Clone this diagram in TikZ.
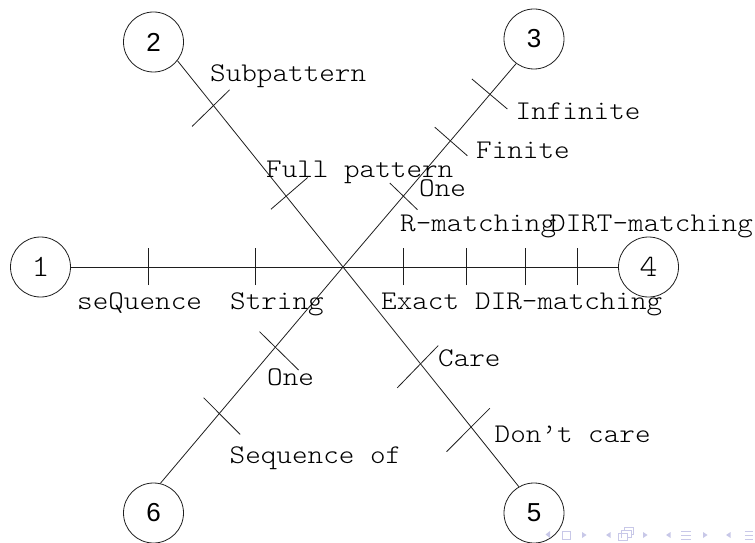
\documentclass[tikz,border=0pt]{standalone}
\usepackage{fontspec}
\setmainfont{Liberation Sans}
\newfontfamily\labelfont{Latin Modern Mono Light}[FakeStretch=1.1]
\definecolor{ink}{RGB}{30,30,30}
\definecolor{navc}{RGB}{200,200,232}
\begin{document}
\begin{tikzpicture}[x=1pt,y=1pt,
  axis/.style={draw=ink, line width=0.8pt},
  hub/.style={circle, draw=ink, line width=0.8pt, minimum size=60pt, inner sep=0pt,
    font=\fontsize{26}{26}\selectfont},
  hubtt/.style={hub, font=\labelfont\fontsize{31}{31}\selectfont},
  lbl/.style={anchor=base west, inner sep=0pt, font=\labelfont\fontsize{27}{27}\selectfont},
  navtri/.style={fill=navc, draw=none},
  navbox/.style={draw=navc, line width=0.9pt}]
\useasboundingbox (0,0) rectangle (755,542);

% hub and the six end circles
\coordinate (C) at (343,275);
\node[hubtt] (n1) at (40.5,275) {1};
\node[hub]   (n2) at (153.5,500) {2};
\node[hub]   (n3) at (534,503) {3};
\node[hubtt] (n4) at (648.5,275) {4};
\node[hub]   (n5) at (534,29) {5};
\node[hub]   (n6) at (153.5,29) {6};

% horizontal axis with its vertical ticks
\draw[axis] (n1) -- (n4);
\foreach \x in {148,255,403,466,525,577}
  \draw[axis] (\x,257) -- (\x,294);

% diagonal axes, with tick positions along them
\draw[axis] (C) -- (n2.-38.5) coordinate[pos=0.3445] (t2b) coordinate[pos=0.7815] (t2a);
\draw[axis] (C) -- (n5.120)   coordinate[pos=0.441] (t5a) coordinate[pos=0.727] (t5b);
\draw[axis] (C) -- (n3.-126)  coordinate[pos=0.347] (t3c) coordinate[pos=0.622] (t3b) coordinate[pos=0.847] (t3a);
\draw[axis] (C) -- (n6.77.7)  coordinate[pos=0.371] (t6a) coordinate[pos=0.678] (t6b);

% cross ticks on the diagonals
\draw[axis] ([shift={(-21.6,-20.7)}]t2a) -- ([shift={(16,16)}]t2a);
\draw[axis] ([shift={(-15,-13.3)}]t2b) -- ([shift={(21.7,18.4)}]t2b);
\draw[axis] ([shift={(-23.3,-24)}]t5a) -- ([shift={(17.7,18.3)}]t5a);
\draw[axis] ([shift={(-24.3,-25)}]t5b) -- ([shift={(19,18.4)}]t5b);
\draw[axis] ([shift={(-17.7,15.7)}]t3a) -- ([shift={(17.7,-14.3)}]t3a);
\draw[axis] ([shift={(-16,13.4)}]t3b) -- ([shift={(16.7,-15.3)}]t3b);
\draw[axis] ([shift={(-13.3,13.4)}]t3c) -- ([shift={(14.4,-13.3)}]t3c);
\draw[axis] ([shift={(-15.7,15.6)}]t6a) -- ([shift={(23.3,-22.7)}]t6a);
\draw[axis] ([shift={(-15.6,16)}]t6b) -- ([shift={(21,-20.7)}]t6b);

% labels
\node[lbl] (lSub)  at (210,460)   {Subpattern};
\node[lbl] (lFull) at (266,365)   {Full pattern};
\node[lbl] (lInf)  at (515.5,422) {Infinite};
\node[lbl] (lFin)  at (476,383.7) {Finite};
\node[lbl] (lOneU) at (419,346)   {One};
\node[lbl] (lR)    at (400,310.3) {R-matching};
\node[lbl] (lDIRT) at (550,310.3) {DIRT-matching};
\node[lbl] (lSeqQ) at (77,232.7)  {seQuence};
\node[lbl] (lStr)  at (230,232.7) {String};
\node[lbl] (lEx)   at (381,232.7) {Exact};
\node[lbl] (lDIR)  at (475,232.7) {DIR-matching};
\node[lbl] (lCare) at (438,175.3) {Care};
\node[lbl] (lDont) at (494.5,99.3) {Don’t care};
\node[lbl] (lOneD) at (267,156.3) {One};
\node[lbl] (lSeqO) at (229.5,78.7) {Sequence of};

% navigation symbols
\fill[navtri] (550,4) -- (550,11) -- (545.5,7.5) -- cycle;
\draw[navbox] (562,2.5) rectangle (570,10.5);
\fill[navtri] (582,4) -- (582,10) -- (586.5,7) -- cycle;
\fill[navtri] (610.5,4) -- (610.5,10) -- (606,7) -- cycle;
\draw[navbox] (618.5,1.5) rectangle (627,8.5);
\draw[navbox] (621.5,4.5) -- (621.5,11.5) -- (631,11.5) -- (631,4.5) -- (627,4.5);
\draw[navbox] (624.5,11.5) -- (624.5,14.5) -- (633,14.5) -- (633,7.5) -- (631,7.5);
\fill[navtri] (643,4) -- (643,10) -- (647.5,7) -- cycle;
\fill[navtri] (670.5,4) -- (670.5,10) -- (666,7) -- cycle;
\foreach \yy in {3,7,11} \draw[navbox] (681,\yy) -- (691,\yy);
\fill[navtri] (703,4) -- (703,10) -- (707.5,7) -- cycle;
\fill[navtri] (730.5,4) -- (730.5,10) -- (726,7) -- cycle;
\foreach \yy in {3,7,11} \draw[navbox] (744.5,\yy) -- (753,\yy);
\end{tikzpicture}
\end{document}
